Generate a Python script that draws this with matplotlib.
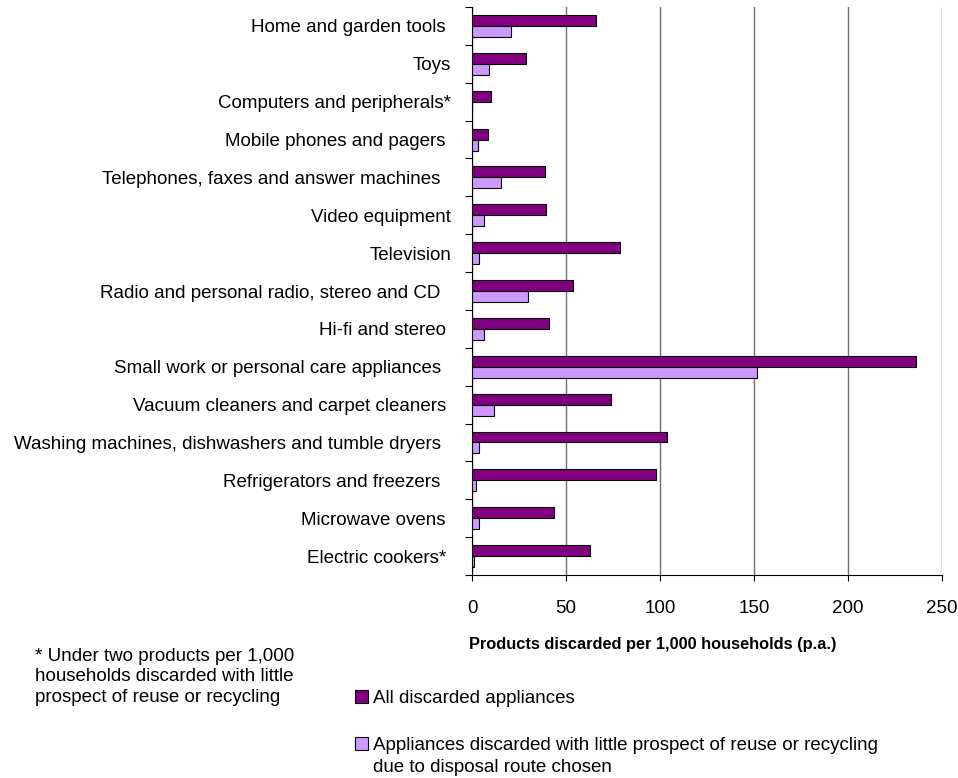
import matplotlib
matplotlib.use('Agg')
from matplotlib import pyplot as plt
import numpy as np

plt.rcParams['font.family'] = ['Liberation Sans', 'DejaVu Sans']

# top to bottom; trailing spaces keep the label layout of the source sheet
CATEGORIES = ['Home and garden tools ', 'Toys', 'Computers and peripherals*',
              'Mobile phones and pagers ', 'Telephones, faxes and answer machines  ',
              'Video equipment', 'Television', 'Radio and personal radio, stereo and CD  ',
              'Hi-fi and stereo ', 'Small work or personal care appliances  ',
              'Vacuum cleaners and carpet cleaners ',
              'Washing machines, dishwashers and tumble dryers  ',
              'Refrigerators and freezers  ', 'Microwave ovens ', 'Electric cookers* ']
ALL_DISCARDED = [66.0, 28.6, 10.1, 8.7, 38.9, 39.6, 78.8, 53.6,
                 40.8, 236.1, 74.0, 103.8, 97.8, 43.5, 62.5]
LITTLE_PROSPECT = [20.6, 9.0, 0.0, 3.4, 15.6, 6.6, 3.9, 29.6,
                   6.6, 151.8, 11.9, 3.9, 2.3, 3.9, 1.2]
XTICKS = [0, 50, 100, 150, 200, 250]

FS = 13.5

fig = plt.figure(figsize=(9.58, 7.78), dpi=100)
ax = fig.add_axes([0.4927, 0.2609, 0.4906, 0.7301])

y = np.arange(len(CATEGORIES))
h = 0.29
b1 = ax.barh(y - h / 2, ALL_DISCARDED, height=h, color='#800080',
             edgecolor='black', linewidth=0.8, zorder=3,
             label='All discarded appliances')
b2 = ax.barh(y + h / 2, LITTLE_PROSPECT, height=h, color='#CC99FF',
             edgecolor='black', linewidth=0.8, zorder=3,
             label='Appliances discarded with little prospect of reuse or recycling')

ax.set_ylim(len(CATEGORIES) - 0.5, -0.5)
ax.set_xlim(0, 250)
ax.set_xticks(XTICKS)
ax.set_yticks(y)
ax.set_yticklabels(CATEGORIES, fontsize=FS)
ax.tick_params(axis='y', length=0, pad=15)
ax.set_yticks(np.arange(len(CATEGORIES) + 1) - 0.5, minor=True)
ax.tick_params(axis='y', which='minor', length=5, width=0.8)
ax.tick_params(axis='x', labelsize=FS, length=4.5, width=0.8, pad=13.5)

ax.xaxis.grid(True, color='#707070', linewidth=1.0, zorder=0)
for s in ['top', 'right']:
    ax.spines[s].set_visible(False)
ax.spines['left'].set_linewidth(0.8)
ax.spines['bottom'].set_linewidth(0.8)

fig.text(653 / 958, 1 - 645 / 778, 'Products discarded per 1,000 households (p.a.)',
         ha='center', va='center', fontsize=11.8, fontweight='bold')
fig.text(35 / 958, 1 - 648 / 778,
         '* Under two products per 1,000\nhouseholds discarded with little\n'
         'prospect of reuse or recycling',
         ha='left', va='top', fontsize=FS, linespacing=1.26)

fig.legend(handles=[b1, b2], loc='upper left',
           bbox_to_anchor=(355 / 958, 1 - 690 / 778), frameon=False,
           fontsize=FS, handlelength=0.7, handleheight=0.7,
           handletextpad=0.27, labelspacing=1.6, borderpad=0,
           borderaxespad=0)
# continuation line of the second legend entry
fig.text(373 / 958, 1 - 767 / 778, 'due to disposal route chosen',
         ha='left', va='center', fontsize=FS)

plt.savefig('out.png', dpi=100)
